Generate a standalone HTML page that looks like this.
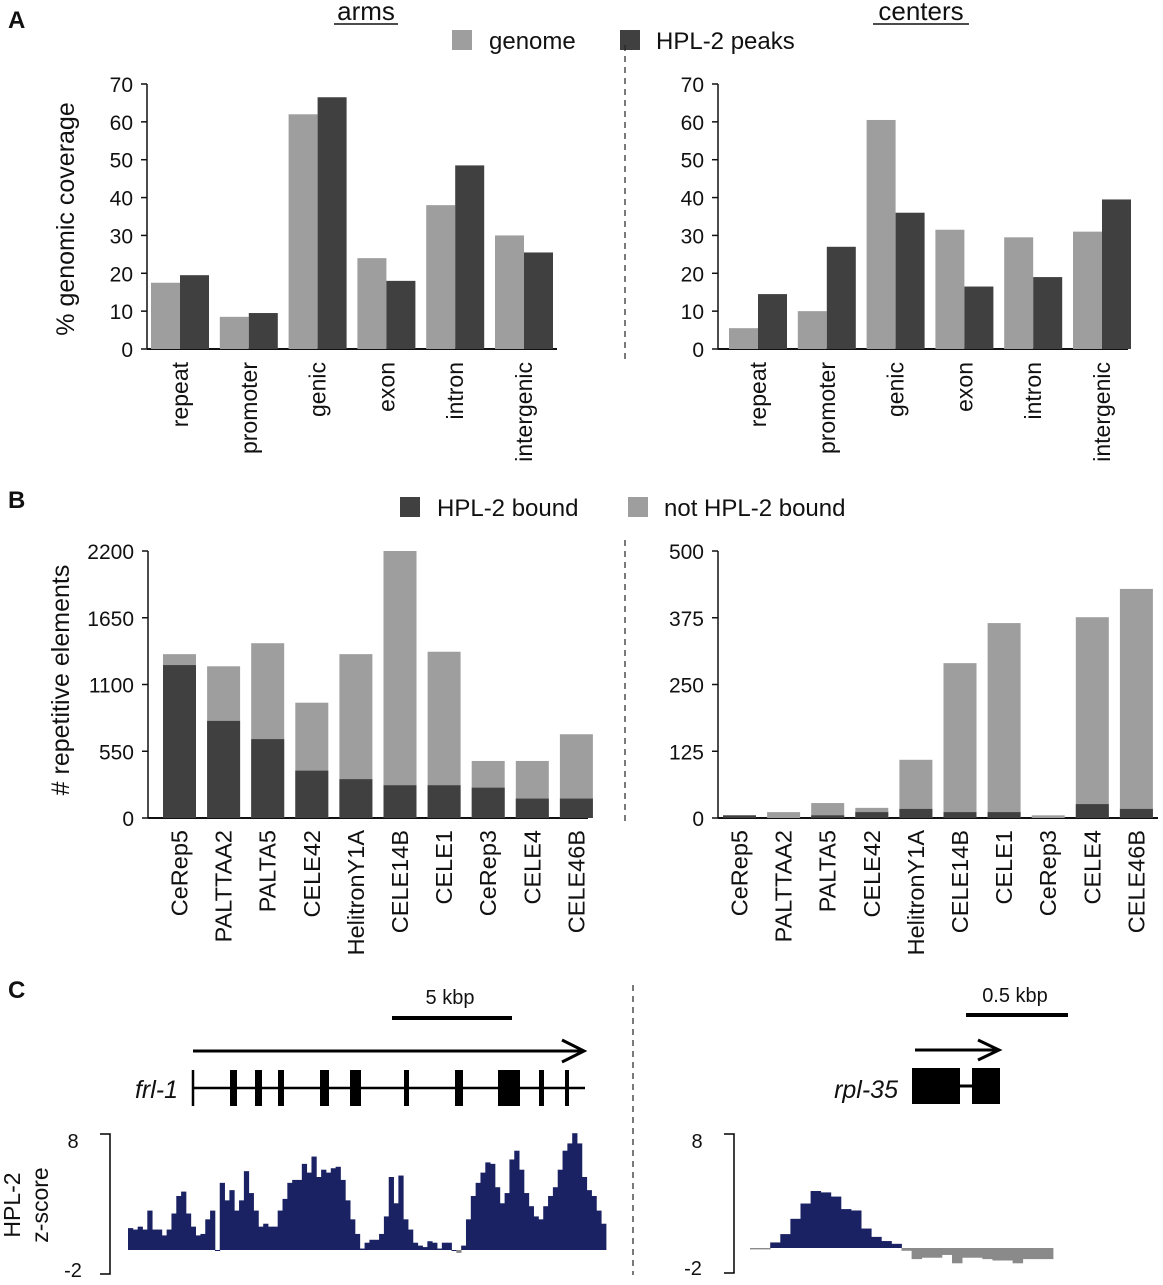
<!DOCTYPE html>
<html><head><meta charset="utf-8"><style>
body{margin:0;background:#fff;}
svg text{font-family:"Liberation Sans",Arial,sans-serif;fill:#111;}
</style></head><body>
<svg id="fig" width="1163" height="1280" viewBox="0 0 1163 1280" xmlns="http://www.w3.org/2000/svg">
<g id="static">
<text x="8" y="28" font-size="24" font-weight="bold">A</text>
<text x="8" y="508" font-size="24" font-weight="bold">B</text>
<text x="8" y="998" font-size="24" font-weight="bold">C</text>
<text x="366" y="20" font-size="26" text-anchor="middle">arms</text>
<line x1="334" y1="24" x2="398" y2="24" stroke="#111" stroke-width="1.5"/>
<text x="921" y="20" font-size="26" text-anchor="middle">centers</text>
<line x1="873" y1="24" x2="969" y2="24" stroke="#111" stroke-width="1.5"/>
<g>
<rect x="452" y="30" width="20" height="20" fill="#9e9e9e"/><text x="489" y="49" font-size="24">genome</text>
<rect x="620" y="30" width="20" height="20" fill="#404040"/><text x="656" y="49" font-size="24">HPL-2 peaks</text>
</g>
<g>
<rect x="400" y="497" width="20" height="20" fill="#404040"/><text x="437" y="516" font-size="24">HPL-2 bound</text>
<rect x="628" y="497" width="20" height="20" fill="#9e9e9e"/><text x="664" y="516" font-size="24">not HPL-2 bound</text>
</g>
<text transform="translate(74,219) rotate(-90)" font-size="25" text-anchor="middle">% genomic coverage</text>
<text transform="translate(69,680) rotate(-90)" font-size="25" text-anchor="middle"># repetitive elements</text>
<g stroke="#222" stroke-width="1.2" stroke-dasharray="6,5">
<line x1="625" y1="45" x2="625" y2="360"/><line x1="625" y1="540" x2="625" y2="825"/><line x1="633" y1="985" x2="633" y2="1275"/>
</g>
<g>
<line x1="392" y1="1018" x2="512" y2="1018" stroke="#000" stroke-width="4"/>
<text x="450" y="1004" font-size="20" text-anchor="middle">5 kbp</text>
<line x1="193" y1="1051" x2="583" y2="1051" stroke="#000" stroke-width="3"/>
<polyline points="562,1040 584,1051 562,1062" fill="none" stroke="#000" stroke-width="3"/>
<line x1="193" y1="1088" x2="585" y2="1088" stroke="#000" stroke-width="2.5"/>
<line x1="193" y1="1070" x2="193" y2="1106" stroke="#000" stroke-width="2.5"/>
<text x="178" y="1098" font-size="25" font-style="italic" text-anchor="end">frl-1</text>
</g>
<g id="exons-left"></g>
<g>
<line x1="966" y1="1015" x2="1068" y2="1015" stroke="#000" stroke-width="4"/>
<text x="1015" y="1002" font-size="20" text-anchor="middle">0.5 kbp</text>
<line x1="915" y1="1050" x2="998" y2="1050" stroke="#000" stroke-width="3"/>
<polyline points="978,1040 999,1050 978,1060" fill="none" stroke="#000" stroke-width="3"/>
<rect x="912" y="1068" width="48" height="36" fill="#000"/>
<line x1="960" y1="1086" x2="972" y2="1086" stroke="#000" stroke-width="3"/>
<rect x="972" y="1068" width="28" height="36" fill="#000"/>
<text x="898" y="1098" font-size="25" font-style="italic" text-anchor="end">rpl-35</text>
</g>
<g>
<polyline points="100,1134 110,1134 110,1274 100,1274" fill="none" stroke="#000" stroke-width="1.5"/>
<text x="73" y="1148" font-size="20" text-anchor="middle">8</text>
<text x="73" y="1277" font-size="20" text-anchor="middle">-2</text>
<text transform="translate(20,1205) rotate(-90)" font-size="23" text-anchor="middle">HPL-2</text>
<text transform="translate(48,1205) rotate(-90)" font-size="23" text-anchor="middle">z-score</text>
</g>
<g>
<polyline points="724,1134 734,1134 734,1273 724,1273" fill="none" stroke="#000" stroke-width="1.5"/>
<text x="697" y="1148" font-size="20" text-anchor="middle">8</text>
<text x="693" y="1275" font-size="20" text-anchor="middle">-2</text>
</g>
</g>
<g id="dyn"></g>
</svg>
<script>
const catsA=["repeat","promoter","genic","exon","intron","intergenic"];
const armsGenome=[17.5,8.5,62,24,38,30];
const armsPeaks=[19.5,9.5,66.5,18,48.5,25.5];
const centGenome=[5.5,10,60.5,31.5,29.5,31];
const centPeaks=[14.5,27,36,16.5,19,39.5];
const ticksA=[0,10,20,30,40,50,60,70];
const catsB=["CeRep5","PALTTAA2","PALTA5","CELE42","HelitronY1A","CELE14B","CELE1","CeRep3","CELE4","CELE46B"];
const armsTotal=[1350,1250,1440,950,1350,2200,1370,470,470,690];
const armsBound=[1260,800,650,390,320,270,270,250,160,160];
const centTotal=[5,11,28,19,109,290,365,5,376,429];
const centBound=[5,0,5,11,17,11,11,0,26,17];
const ticksBL=[0,550,1100,1650,2200];
const ticksBR=[0,125,250,375,500];
const exonsFrl=[[230,237],[255,262],[278,284],[320,329],[350,361],[404,409],[455,463],[498,520],[539,544],[565,569]];
const trackLeft=[1.5,1.4,1.6,1.4,2.7,1.4,1.4,1.0,1.4,2.5,3.7,4.0,2.5,1.6,1.0,1.1,2.1,2.7,0,4.6,3.4,4.1,2.7,3.4,5.4,3.9,2.7,1.6,1.8,1.6,1.6,2.7,3.5,4.6,4.8,4.8,5.9,5.3,6.4,5.0,5.5,5.3,5.6,5.7,4.8,3.4,2.1,1.1,0.1,0.5,0.7,0.7,1.1,2.3,5.0,3.2,5.1,2.1,1.4,0.5,0.3,0.2,0.6,0.5,0.1,0.5,0.5,0,-0.2,0.3,2.1,3.7,4.6,5.3,6.0,5.9,4.3,3.2,3.9,6.2,6.8,5.5,3.9,3.0,2.3,2.1,3.0,3.7,4.3,5.5,6.8,7.3,8.0,7.3,5.0,4.1,3.7,2.7,1.8];
const trackRight=[-0.1,-0.1,0.4,1.0,2.1,3.2,4.1,4.0,3.7,2.8,2.7,1.4,0.8,0.5,0.3,-0.2,-0.8,-0.7,-0.7,-0.5,-1.1,-0.7,-0.7,-0.8,-0.9,-0.9,-1.1,-0.8,-0.8,-0.8];

const NS="http://www.w3.org/2000/svg";
const dyn=document.getElementById('dyn');
function mk(tag,attrs,parent){const e=document.createElementNS(NS,tag);for(const k in attrs)e.setAttribute(k,attrs[k]);(parent||dyn).appendChild(e);return e;}
function axis(x0,x1,y0,y1,max,ticks,name){
  const sy=v=>y0-(v/max)*(y0-y1);
  const g=mk('g',{});
  
  
  mk('line',{x1:x0,y1:y0,x2:x1,y2:y0,stroke:'#111','stroke-width':2},g);
  mk('line',{x1:x0,y1:y0,x2:x0,y2:y1,stroke:'#111','stroke-width':1.5},g);
  ticks.forEach(t=>{const y=sy(t);mk('line',{x1:x0-6,y1:y,x2:x0,y2:y,stroke:'#111','stroke-width':1.5},g);
    const tx=mk('text',{x:x0-14,y:y+8,'font-size':21,'text-anchor':'end'},g);tx.textContent=t;});
  return sy;
}
function catLabels(cats,cx,y,name,fs){
  cats.forEach((c,i)=>{const t=mk('text',{transform:`translate(${cx(i)+8},${y}) rotate(-90)`,'font-size':fs,'text-anchor':'end'});
    
    
    t.textContent=c;});
}
function panelA(x0,g1,gv,pv,name){
  const sy=axis(x0,x0+410,349,84,70,ticksA,name+'-axis');
  const cx=i=>g1+i*68.8;
  catsA.forEach((c,i)=>{
    const a=mk('rect',{x:cx(i)-29,y:sy(gv[i]),width:29,height:349-sy(gv[i]),fill:'#9e9e9e'});
    
    
    const b=mk('rect',{x:cx(i),y:sy(pv[i]),width:29,height:349-sy(pv[i]),fill:'#404040'});
    
    
  });
  catLabels(catsA,cx,362,name+'-label',23);
}
panelA(147,180,armsGenome,armsPeaks,'arms');
panelA(718,758,centGenome,centPeaks,'centers');
function panelB(x0,b0,max,ticks,tot,bd,name){
  const sy=axis(x0,x0+440,818,551,max,ticks,name+'-axis');
  const cx=i=>b0+16.5+i*44.1;
  catsB.forEach((c,i)=>{
    const a=mk('rect',{x:cx(i)-16.5,y:sy(tot[i]),width:33,height:818-sy(tot[i]),fill:'#9e9e9e'});
    
    
    const b=mk('rect',{x:cx(i)-16.5,y:sy(bd[i]),width:33,height:818-sy(bd[i]),fill:'#404040'});
    
    
  });
  catLabels(catsB,cx,830,name+'-label',23.5);
}
panelB(148,163,2200,ticksBL,armsTotal,armsBound,'b-arms');
panelB(718,723,500,ticksBR,centTotal,centBound,'b-centers');
const ex=document.getElementById('exons-left');
exonsFrl.forEach((e,i)=>{const r=mk('rect',{x:e[0],y:1070,width:e[1]-e[0],height:36,fill:'#000'},ex);
  
  });
function track(vals,x0,x1,y0,ppu,name){
  const w=(x1-x0)/vals.length;
  const g=mk('g',{});
  
  
  vals.forEach((v,i)=>{
    const h=Math.abs(v)*ppu;
    mk('rect',{x:x0+i*w,y:v>=0?y0-h:y0,width:w+0.4,height:Math.max(h,1),fill:v>=0?'#1b2263':'#8a8a8a'},g);
  });
}
track(trackLeft,128,606,1250,14.6,'track-frl-1');
track(trackRight,750,1053,1248,13.9,'track-rpl-35');
</script>
</body></html>
